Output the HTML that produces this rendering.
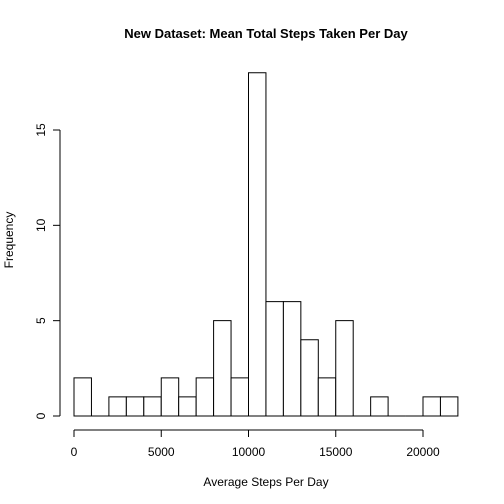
<!DOCTYPE html>
<html><head><meta charset="utf-8"><style>body{margin:0;background:#fff}svg{display:block;font-family:"Liberation Sans",Arial,sans-serif}</style></head>
<body>
<svg id="chart" width="504" height="504" viewBox="0 0 504 504">
<rect width="504" height="504" fill="#fff"/>
<text x="266" y="38" text-anchor="middle" font-size="13" font-weight="bold">New Dataset: Mean Total Steps Taken Per Day</text>
<text x="266" y="486" text-anchor="middle" font-size="12">Average Steps Per Day</text>
<text x="0" y="0" transform="translate(13,240) rotate(-90)" text-anchor="middle" font-size="12">Frequency</text>
<g id="bars"></g><g id="axes"></g>
</svg>
<script>
const binStarts=[0,1000,2000,3000,4000,5000,6000,7000,8000,9000,10000,11000,12000,13000,14000,15000,16000,17000,18000,19000,20000,21000];
const counts=[2,0,1,1,1,2,1,2,5,2,18,6,6,4,2,5,0,1,0,0,1,1];
const binWidth=1000;
const xTicks=[0,5000,10000,15000,20000];
const yTicks=[0,5,10,15];
const NS="http://www.w3.org/2000/svg";
const xs=v=>74+v*(423-74)/20000;
const ys=v=>416-v*(416-130)/15;
const bars=document.getElementById('bars'),axes=document.getElementById('axes');
function mk(tag,attrs,parent){const e=document.createElementNS(NS,tag);for(const k in attrs)e.setAttribute(k,attrs[k]);parent.appendChild(e);return e;}
binStarts.forEach((b,i)=>{
  const x0=xs(b),x1=xs(b+binWidth),y=ys(counts[i]),y0=ys(0);
  const r=mk('path',{d:`M${x0},${y0}L${x0},${y}L${x1},${y}L${x1},${y0}Z`,fill:'#fff',stroke:'#000','stroke-width':1},bars);
  
  
});
const xa=mk('line',{x1:xs(xTicks[0]),x2:xs(xTicks[xTicks.length-1]),y1:430,y2:430,stroke:'#000'},axes);


xTicks.forEach(t=>{
  mk('line',{x1:xs(t),x2:xs(t),y1:430,y2:437,stroke:'#000'},axes);
  const tx=mk('text',{x:xs(t),y:456,'text-anchor':'middle','font-size':12},axes);
  tx.textContent=t;
  
  
});
const ya=mk('line',{x1:60,x2:60,y1:ys(yTicks[0]),y2:ys(yTicks[yTicks.length-1]),stroke:'#000'},axes);


yTicks.forEach(t=>{
  mk('line',{x1:53,x2:60,y1:ys(t),y2:ys(t),stroke:'#000'},axes);
  const tx=mk('text',{x:0,y:0,transform:`translate(45,${ys(t)}) rotate(-90)`,'text-anchor':'middle','font-size':12},axes);
  tx.textContent=t;
  
  
});
</script>
</body></html>
